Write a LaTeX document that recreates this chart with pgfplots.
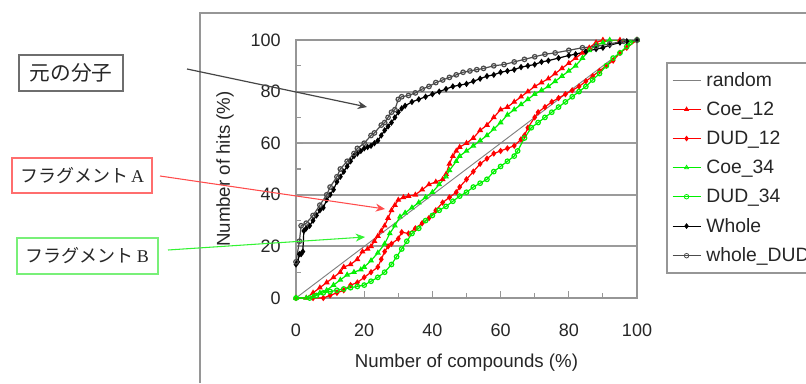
\documentclass[border=0pt]{standalone}
\usepackage{fontspec}
\setmainfont{Liberation Sans}
\newfontfamily\jp{Noto Sans CJK JP}
\newfontfamily\serifA{Liberation Serif}
\usepackage{pgfplots}
\pgfplotsset{compat=1.18}
\usetikzlibrary{arrows.meta}
\definecolor{gridgray}{RGB}{155,155,155}
\definecolor{framegray}{RGB}{150,150,150}
\definecolor{boxgray}{RGB}{110,110,110}
\definecolor{arrgray}{RGB}{70,70,70}
\definecolor{xred}{RGB}{255,0,0}
\definecolor{xgreen}{RGB}{0,240,0}
\definecolor{boxred}{RGB}{255,110,110}
\definecolor{boxgreen}{RGB}{120,240,120}

\pgfplotstableread{
x y
0 13
0.5 14
1 17
1.5 17
2 18
2.3 26
3 27
4 28
5 30
6 32
7 34
8 35
9 38
10 40
11 42
12 45
13 47
14 49
15 51
16 53
17 55
18 56
19 57
20 58
21 58.5
22 59
23 60
24 61
25 63
26 65
27 66.5
28 68
29 70
30 72
31 73.5
32 74.5
34 76
36 77
38 78
40 79
42 80
44 81
46 82
48 82.5
50 83
52 84
54 85
56 86
58 86.5
60 87.5
62 88
64 88.5
66 89.5
68 90
70 90.5
72 91.5
74 92
77 93
80 94
82 94.5
85 95.5
88 96.5
90 97
92 98
95 99
97 99.5
100 100
}\whole

\pgfplotstableread{
x y
0 14
1 22
1.5 28
3 29
5 32
7 36
9 40
10 43
12 47
13 50
15 53
17 56
18 58
20 60
22 63
23 64
25 67
26 68
27 70
28 72
29 73
30 77
31 78
33 78.5
35 79.5
37 81
39 82
41 83.5
43 84.5
45 85.5
47 86.5
49 87.5
51 88
53 88.5
55 89
58 90
61 90.5
64 91.5
67 92.5
70 93.5
73 94.5
76 95
80 96
84 97
88 97.5
92 98.5
96 99.5
100 100
}\wholedud

\pgfplotstableread{
x y
0 0
3 0
5 2
7 4
9 6
11 8
13 10
14 12
16 13
18 15
19.5 18
21 19
22 20
23 22
24 24
25 26
26 28
27 31
28 34
29 36
30 38
31.5 39
33 39.5
35 40
37 42
39 44
41 45
43 46
44 48
45 52
46 55
47 57
48 58.5
50 60
52 62
54 65
56 67
58 70
60 73
62 74
64 76
66 78
68 80
70 82
72 83.5
74 85
76 87
78 89
80 91
82 93
84 95
86 97
88 99
90 100
95 100
100 100
}\coeA

\pgfplotstableread{
x y
0 0
5 0
8 0
10 1
12 2
14 3
16 5
18 6
20 8
22 10
24 12
25 15
26 18
27 20
28 21
30 23
31 25.5
33 25
35 27
37 29
39 31
41 34
43 37
45 39
47 41
48 43
50 46
52 49
54 52
56 54
58 56
60 57
62 58
64 59
66 61.5
67 63
68 66
70 70
71 72
73 74
75 76
77 77.5
79 79
81 80.5
83 82
85 84
87 86
89 88
91 90
93 92
95 95
97 97
100 100
}\dudA

\pgfplotstableread{
x y
0 0
3 0
5 0.5
7 2
9 3
11 5
13 7
15 9
17 10
19 11
20 12
22 14.5
24 17.5
26 21
27.5 25
29 28
30.5 31.5
32 33
34 35
36 37
38 39
40 41
42 44
44 47
45 49.5
47 53
48 55
50 57
52 59
54 61
56 63
58 65.5
60 68
62 71
64 73
66 75
68 77
70 79
72 80.5
74 82
76 84
78 86
80 88
82 90
84 93
86 96
88 98
90 99
92 100
100 100
}\coeB

\pgfplotstableread{
x y
0 0
4 0
6 1
8 2
10 2.5
12 3
14 3.5
16 4
18 4.5
20 5
22 6.5
24 8
26 10
28 13
29.5 16
31 19
32.5 22
34 25
36 27
38 30
40 32
42 34
44 35.5
46 37.5
48 39.5
50 41
52 43
54 44.5
56 46
58 49
60 51
62 53
64 55
65 57
67 62
69 66
71 68
73 70
75 72
77 74
79 76
81 78
83 80
85 82
87 84.5
89 87
91 90
93 93
95 95
97 97.5
98 99
100 100
}\dudB

\begin{document}
\begin{tikzpicture}[x=0.75pt,y=0.75pt]
\useasboundingbox (0,0) rectangle (806,383);
\draw[framegray, line width=1.5pt] (200,0) -- (200,370) -- (806,370);
\begin{axis}[
  at={(222pt,63.75pt)}, anchor=south west,
  scale only axis, width=255.75pt, height=193.5pt,
  xmin=0, xmax=100, ymin=0, ymax=100,
  xtick={0,20,...,100}, ytick={0,20,...,100},
  minor xtick={10,30,...,90}, minor ytick={10,30,...,90},
  xtick pos=left, ytick pos=left,
  tick align=inside,
  major tick length=5pt, minor tick length=4pt,
  every tick/.style={framegray, line width=0.8pt},
  ymajorgrids,
  grid style={gridgray, line width=1.5pt},
  axis line style={framegray, line width=1.5pt},
  /pgf/number format/assume math mode=true,
  tick label style={font=\fontsize{13.5}{15}\selectfont, text=black!85},
  xticklabel style={yshift=-16pt},
  yticklabel style={xshift=-8pt},
  xlabel={Number of compounds (\%)},
  ylabel={Number of hits (\%)},
  label style={font=\fontsize{14}{16}\selectfont, text=black!85},
  xlabel style={at={(axis description cs:0.5,-0.25)}, anchor=center},
  ylabel style={at={(axis description cs:-0.208,0.5)}, anchor=center, rotate=0},
  legend style={at={(axis description cs:1.085,0.915)}, anchor=north west,
    draw=framegray, line width=1.2pt, font=\fontsize{14.5}{16}\selectfont,
    text=black!85, row sep=8.2pt, column sep=3pt, inner xsep=4pt, inner ysep=6pt,
    nodes={inner sep=1pt}},
  legend cell align=left,
  legend image code/.code={%
    \draw[mark repeat=2,mark phase=2,line width=0.6pt]
      plot coordinates {(0cm,0cm) (0.37cm,0cm) (0.74cm,0cm)};},
  mark size=1.7pt,
]
\addplot[gray, line width=0.7pt, no marks] coordinates {(0,0) (100,100)};
\addlegendentry{random}
\addplot[xred, line width=0.9pt, mark=triangle*, mark options={fill=xred}] table {\coeA};
\addlegendentry{Coe\_12}
\addplot[xred, line width=0.9pt, mark=diamond*, mark options={fill=xred}] table {\dudA};
\addlegendentry{DUD\_12}
\addplot[xgreen, line width=0.9pt, mark=triangle, mark options={fill=white}] table {\coeB};
\addlegendentry{Coe\_34}
\addplot[xgreen, line width=0.9pt, mark=o, mark options={fill=white}] table {\dudB};
\addlegendentry{DUD\_34}
\addplot[black, line width=0.9pt, mark=diamond*, mark options={fill=black}] table {\whole};
\addlegendentry{Whole}
\addplot[black!70, line width=0.9pt, mark=o, mark options={fill=white}] table {\wholedud};
\addlegendentry{whole\_DUD}
\end{axis}
% annotations
\draw[boxgray, line width=1.3pt] (19,292) rectangle (123,328);
\node[font=\jp\fontsize{15.5}{17}\selectfont, text=black!85] at (71,310) {元の分子};
\draw[boxred, line width=1.3pt] (12,190) rectangle (152,225);
\node[font=\fontsize{13.5}{15}\selectfont, text=black!85] at (82,207.5) {{\jp フラグメント}\,{\serifA A}};
\draw[boxgreen, line width=1.3pt] (17,109) rectangle (158,145);
\node[font=\fontsize{13.5}{15}\selectfont, text=black!85] at (87.5,127) {{\jp フラグメント}\,{\serifA B}};
\draw[arrgray, line width=0.9pt, -{Stealth[length=7pt,width=6pt]}] (187,314) -- (367,276);
\draw[xred!70, line width=0.8pt, -{Stealth[length=7pt,width=6pt]}] (160,207) -- (385,174);
\draw[xgreen!80, line width=0.8pt, -{Stealth[length=7pt,width=6pt]}] (168,133) -- (365,146);
\end{tikzpicture}
\end{document}
